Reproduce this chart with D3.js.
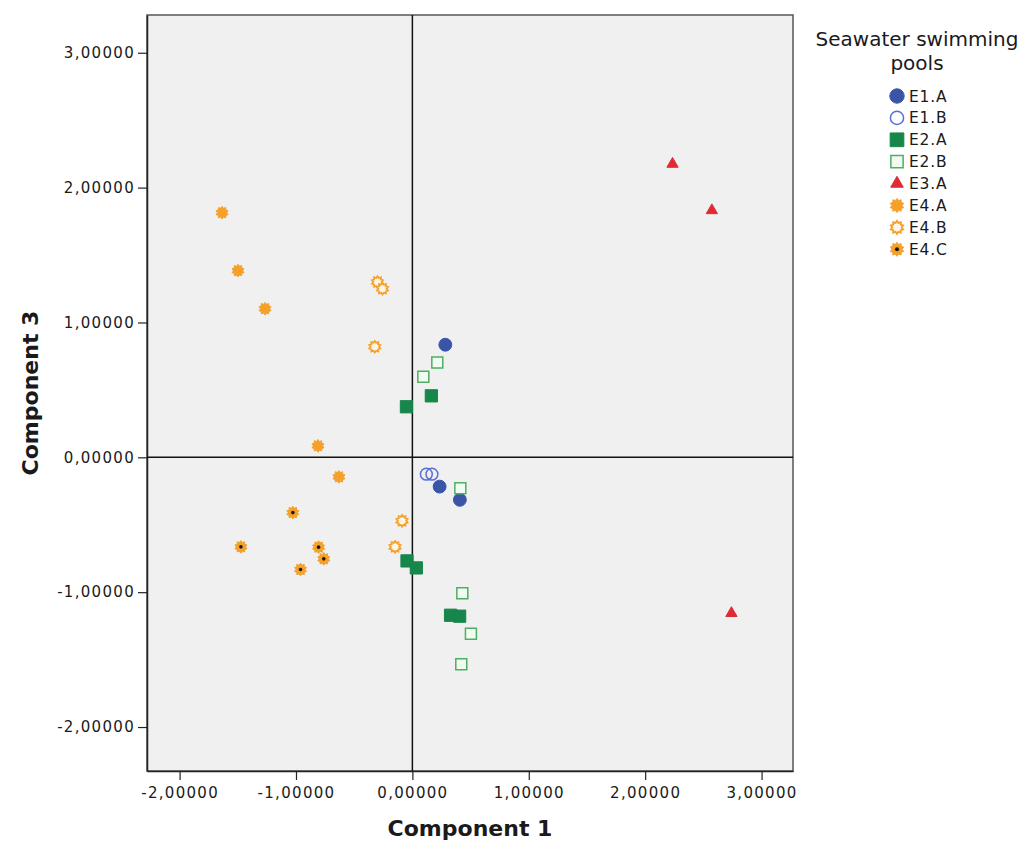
<!DOCTYPE html>
<html>
<head>
<meta charset="utf-8">
<script src="https://cdn.jsdelivr.net/npm/d3@7"></script>
<style>
  body { margin: 0; background: #ffffff; }
  svg { display: block; }
  text { font-family: "DejaVu Sans", "Liberation Sans", sans-serif; fill: #1a1a1a; }
</style>
</head>
<body>
<svg id="chart" width="1030" height="841"></svg>
<script>
// ---- data ----
const groups = ["E1.A", "E1.B", "E2.A", "E2.B", "E3.A", "E4.A", "E4.B", "E4.C"];

const e1a = [[0.283, 0.835], [0.234, -0.217], [0.408, -0.315]];
const e1b = [[0.120, -0.125], [0.168, -0.125]];
const e2a = [[0.163, 0.456], [-0.051, 0.375], [-0.046, -0.768], [0.034, -0.820], [0.328, -1.171], [0.406, -1.178]];
const e2b = [[0.214, 0.703], [0.094, 0.597], [0.412, -0.229], [0.429, -1.008], [0.503, -1.309], [0.420, -1.534]];
const e3a = [[2.235, 2.175], [2.573, 1.831], [2.741, -1.156]];
const e4a = [[-1.635, 1.814], [-1.498, 1.384], [-1.266, 1.102], [-0.811, 0.085], [-0.631, -0.145]];
const e4b = [[-0.300, 1.300], [-0.257, 1.250], [-0.323, 0.820], [-0.089, -0.471], [-0.149, -0.664]];
const e4c = [[-1.473, -0.664], [-1.027, -0.410], [-0.806, -0.666], [-0.761, -0.753], [-0.961, -0.832]];

const seriesValues = [e1a, e1b, e2a, e2b, e3a, e4a, e4b, e4c];

const xTicks = [-2, -1, 0, 1, 2, 3];
const yTicks = [-2, -1, 0, 1, 2, 3];

const xTitle = "Component 1";
const yTitle = "Component 3";
const legendTitle = ["Seawater swimming", "pools"];

// ---- styles ----
const blue = "#3a54a8", blueLight = "#5a6fd6", green = "#17864a", greenLight = "#4caf63",
      red = "#e02a35", orange = "#f5a02a";

// custom starburst symbol
const burst = {
  draw(ctx, size) {
    const r = Math.sqrt(size / Math.PI) * 1.15, ri = r * 0.72, n = 10;
    for (let i = 0; i < n * 2; i++) {
      const a = (i * Math.PI) / n - Math.PI / 2;
      const rr = i % 2 === 0 ? r : ri;
      const x = rr * Math.cos(a), y = rr * Math.sin(a);
      if (i === 0) ctx.moveTo(x, y); else ctx.lineTo(x, y);
    }
    ctx.closePath();
  }
};

const styles = {
  "E1.A": { type: d3.symbolCircle, size: 130, fill: blue, stroke: blue, sw: 1 },
  "E1.B": { type: d3.symbolCircle, size: 110, fill: "none", stroke: blueLight, sw: 1.5 },
  "E2.A": { type: d3.symbolSquare, size: 150, fill: green, stroke: green, sw: 1 },
  "E2.B": { type: d3.symbolSquare, size: 120, fill: "#f2fbf2", stroke: greenLight, sw: 1.5 },
  "E3.A": { type: d3.symbolTriangle, size: 55, fill: red, stroke: red, sw: 1 },
  "E4.A": { type: burst, size: 95, fill: orange, stroke: orange, sw: 1 },
  "E4.B": { type: burst, size: 80, fill: "#fff6e6", stroke: orange, sw: 1.8 },
  "E4.C": { type: burst, size: 95, fill: orange, stroke: orange, sw: 1, dot: true }
};

// ---- layout ----
const svg = d3.select("#chart");
const plot = { left: 147, right: 793, top: 15, bottom: 771 };

const x = d3.scaleLinear().domain([-2.28, 3.27]).range([plot.left, plot.right]);
const y = d3.scaleLinear().domain([-2.326, 3.28]).range([plot.bottom, plot.top]);

const locale = d3.formatLocale({ decimal: ",", thousands: ".", grouping: [3], currency: ["", ""], minus: "-" });
const fmt = locale.format(".5f");

// plot background
svg.append("rect")
  .attr("x", plot.left).attr("y", plot.top)
  .attr("width", plot.right - plot.left).attr("height", plot.bottom - plot.top)
  .attr("fill", "#f0f0f0").attr("stroke", "#555").attr("stroke-width", 1.5);

// axes
const xAxis = d3.axisBottom(x).tickValues(xTicks).tickFormat(fmt).tickSize(9).tickSizeOuter(0).tickPadding(4);
const yAxis = d3.axisLeft(y).tickValues(yTicks).tickFormat(fmt).tickSize(9).tickSizeOuter(0).tickPadding(3);

const gx = svg.append("g").attr("transform", `translate(0,${plot.bottom})`).call(xAxis);
const gy = svg.append("g").attr("transform", `translate(${plot.left},0)`).call(yAxis);
[gx, gy].forEach(g => {
  g.select(".domain").attr("stroke", "#222").attr("stroke-width", 1.5);
  g.selectAll(".tick line").attr("stroke", "#222").attr("stroke-width", 1.2);
  g.selectAll(".tick text").attr("font-size", 15).attr("letter-spacing", 1.3)
    .attr("font-family", "'DejaVu Sans', sans-serif").attr("fill", "#1a1a1a");
});
gx.selectAll(".tick text").attr("dy", "0.9em");

// reference lines
svg.append("line").attr("x1", x(0)).attr("x2", x(0)).attr("y1", plot.top).attr("y2", plot.bottom)
  .attr("stroke", "#111").attr("stroke-width", 1.5);
svg.append("line").attr("x1", plot.left).attr("x2", plot.right).attr("y1", y(0)).attr("y2", y(0))
  .attr("stroke", "#111").attr("stroke-width", 1.5);

// points
function drawMarker(g, name, cx, cy, scale) {
  const s = styles[name];
  g.append("path")
    .attr("d", d3.symbol().type(s.type).size(s.size * scale)())
    .attr("transform", `translate(${cx},${cy})`)
    .attr("fill", s.fill).attr("stroke", s.stroke).attr("stroke-width", s.sw);
  if (s.dot) {
    g.append("circle").attr("cx", cx).attr("cy", cy).attr("r", 1.8 * Math.sqrt(scale)).attr("fill", "#1a1a1a");
  }
}

const pts = svg.append("g");
groups.forEach((name, i) => {
  seriesValues[i].forEach(d => drawMarker(pts, name, x(d[0]), y(d[1]), 1));
});

// axis titles
svg.append("text").attr("x", (plot.left + plot.right) / 2).attr("y", 836)
  .attr("text-anchor", "middle").attr("font-size", 22).attr("font-weight", "bold").text(xTitle);
svg.append("text").attr("transform", `translate(38,${(plot.top + plot.bottom) / 2}) rotate(-90)`)
  .attr("text-anchor", "middle").attr("font-size", 22).attr("font-weight", "bold").text(yTitle);

// legend
const lg = svg.append("g");
legendTitle.forEach((t, i) => {
  lg.append("text").attr("x", 917).attr("y", 46 + i * 24).attr("text-anchor", "middle")
    .attr("font-size", 20).text(t);
});
groups.forEach((name, i) => {
  const ly = 96 + i * 21.9;
  drawMarker(lg, name, 897, ly, 1.25);
  lg.append("text").attr("x", 909).attr("y", ly).attr("dy", "0.36em")
    .attr("font-size", 15.5).attr("letter-spacing", 0.8).text(name);
});
</script>
</body>
</html>
